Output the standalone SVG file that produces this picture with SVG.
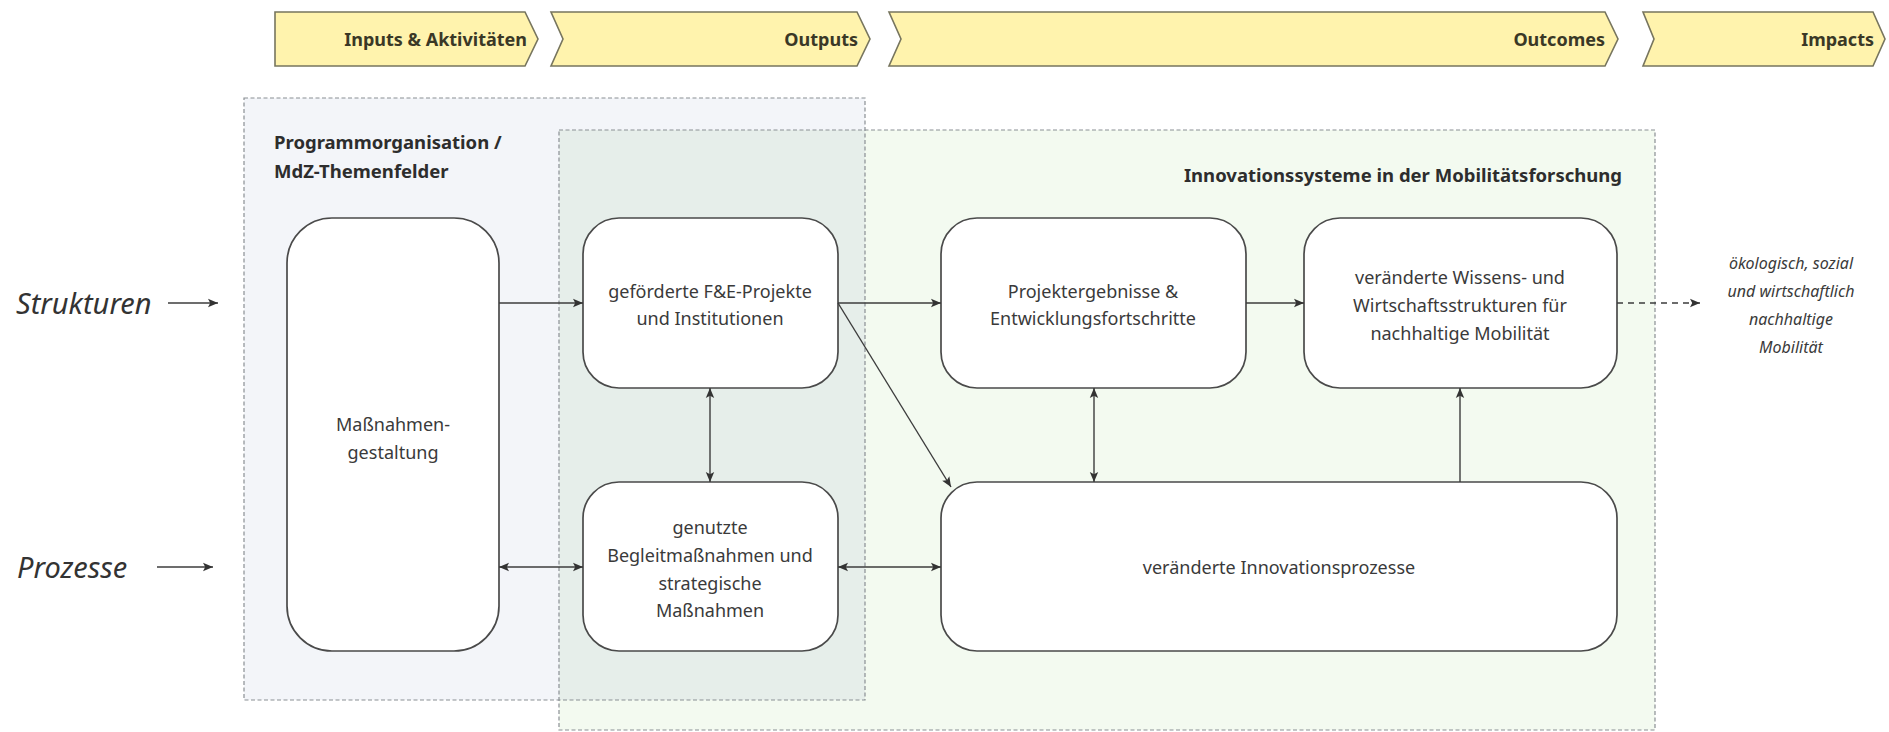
<svg xmlns="http://www.w3.org/2000/svg" width="1889" height="732" viewBox="0 0 1889 732">
  <defs>
    <marker id="arrow" viewBox="0 0 10 10" refX="10" refY="5" markerWidth="10" markerHeight="10" markerUnits="userSpaceOnUse" orient="auto-start-reverse">
      <path d="M0,0.8 L10,5 L0,9.2 L2.2,5 Z" fill="#333"/>
    </marker>
    <style>
      .phase { fill: #fff3ad; stroke: #77755e; stroke-width: 1.6; }
      .phase-label { font-family: "Noto Sans", "Open Sans", sans-serif; font-weight: bold; font-size: 18px; fill: #3a3826; text-anchor: end; dominant-baseline: central; }
      .group-title { font-family: "Noto Sans", "Open Sans", sans-serif; font-weight: bold; font-size: 18.5px; fill: #2d2d2d; }
      .frame { fill: none; stroke: #8a8f93; stroke-width: 1.2; stroke-dasharray: 4 2.5; }
      .node { fill: #ffffff; stroke: #4a4a4a; stroke-width: 1.7; }
      .label { font-family: "Noto Sans", "Open Sans", sans-serif; font-size: 18px; fill: #3a3a3a; text-anchor: middle; dominant-baseline: central; }
      .side { font-family: "Noto Sans", "Open Sans", sans-serif; font-style: italic; font-size: 29px; fill: #333; dominant-baseline: central; }
      .goal { font-family: "Noto Sans", "Open Sans", sans-serif; font-style: italic; font-size: 16px; fill: #3a3a3a; text-anchor: middle; dominant-baseline: central; }
      .edge { fill: none; stroke: #3c3c3c; stroke-width: 1.4; }
    </style>
  </defs>

  <rect width="1889" height="732" fill="#ffffff"/>

  <!-- phase banner -->
  <g id="phases">
    <g id="phase-inputs">
      <path class="phase" d="M275,12 H525 L538,39 L525,66 H275 Z"/>
      <text class="phase-label" x="527" y="39">Inputs &amp; Aktivitäten</text>
    </g>
    <g id="phase-outputs">
      <path class="phase" d="M551,12 H857 L870,39 L857,66 H551 L563,39 Z"/>
      <text class="phase-label" x="858" y="39">Outputs</text>
    </g>
    <g id="phase-outcomes">
      <path class="phase" d="M889,12 H1605 L1618,39 L1605,66 H889 L901,39 Z"/>
      <text class="phase-label" x="1605" y="39">Outcomes</text>
    </g>
    <g id="phase-impacts">
      <path class="phase" d="M1643,12 H1873 L1885,39 L1873,66 H1643 L1654,39 Z"/>
      <text class="phase-label" x="1874" y="39">Impacts</text>
    </g>
  </g>

  <!-- background areas -->
  <g id="areas">
    <rect x="244" y="98" width="621" height="602" fill="#f3f5f9"/>
    <rect x="559" y="130" width="1096" height="600" fill="#f3faf0"/>
    <rect x="559" y="130" width="306" height="570" fill="#e6eeea"/>
    <rect class="frame" x="244" y="98" width="621" height="602"/>
    <rect class="frame" x="559" y="130" width="1096" height="600"/>
    <text class="group-title" x="274" y="149">Programmorganisation /</text>
    <text class="group-title" x="274" y="178">MdZ-Themenfelder</text>
    <text class="group-title" x="1622" y="182" text-anchor="end">Innovationssysteme in der Mobilitätsforschung</text>
  </g>

  <!-- side inputs -->
  <g id="input-strukturen">
    <text class="side" x="16" y="302">Strukturen</text>
  </g>
  <g id="input-prozesse">
    <text class="side" x="17" y="566">Prozesse</text>
  </g>

  <!-- nodes -->
  <g id="node-massnahmen">
    <rect class="node" x="287" y="218" width="212" height="433" rx="45" ry="45"/>
    <text class="label" x="393" y="424">Maßnahmen-</text>
    <text class="label" x="393" y="452">gestaltung</text>
  </g>
  <g id="node-projekte">
    <rect class="node" x="583" y="218" width="255" height="170" rx="36" ry="36"/>
    <text class="label" x="710" y="291">geförderte F&amp;E-Projekte</text>
    <text class="label" x="710" y="318">und Institutionen</text>
  </g>
  <g id="node-begleit">
    <rect class="node" x="583" y="482" width="255" height="169" rx="36" ry="36"/>
    <text class="label" x="710" y="527">genutzte</text>
    <text class="label" x="710" y="555">Begleitmaßnahmen und</text>
    <text class="label" x="710" y="583">strategische</text>
    <text class="label" x="710" y="610">Maßnahmen</text>
  </g>
  <g id="node-ergebnisse">
    <rect class="node" x="941" y="218" width="305" height="170" rx="36" ry="36"/>
    <text class="label" x="1093" y="291">Projektergebnisse &amp;</text>
    <text class="label" x="1093" y="318">Entwicklungsfortschritte</text>
  </g>
  <g id="node-strukturen">
    <rect class="node" x="1304" y="218" width="313" height="170" rx="36" ry="36"/>
    <text class="label" x="1460" y="277">veränderte Wissens- und</text>
    <text class="label" x="1460" y="305">Wirtschaftsstrukturen für</text>
    <text class="label" x="1460" y="333">nachhaltige Mobilität</text>
  </g>
  <g id="node-prozesse">
    <rect class="node" x="941" y="482" width="676" height="169" rx="36" ry="36"/>
    <text class="label" x="1279" y="567">veränderte Innovationsprozesse</text>
  </g>
  <g id="node-impact">
    <text class="goal" x="1791" y="263">ökologisch, sozial</text>
    <text class="goal" x="1791" y="291">und wirtschaftlich</text>
    <text class="goal" x="1791" y="319">nachhaltige</text>
    <text class="goal" x="1791" y="347">Mobilität</text>
  </g>

  <!-- connectors -->
  <g id="connectors">
    <line class="edge" x1="168" y1="303" x2="218" y2="303" marker-end="url(#arrow)"/>
    <line class="edge" x1="157" y1="567" x2="213" y2="567" marker-end="url(#arrow)"/>
    <line class="edge" x1="499" y1="303" x2="583" y2="303" marker-end="url(#arrow)"/>
    <line class="edge" x1="838" y1="303" x2="941" y2="303" marker-end="url(#arrow)"/>
    <line class="edge" x1="1246" y1="303" x2="1304" y2="303" marker-end="url(#arrow)"/>
    <line class="edge" x1="1617" y1="303" x2="1700" y2="303" stroke-dasharray="6 5" marker-end="url(#arrow)"/>
    <line class="edge" x1="838" y1="303" x2="951" y2="487" marker-end="url(#arrow)"/>
    <line class="edge" x1="710" y1="388" x2="710" y2="482" marker-start="url(#arrow)" marker-end="url(#arrow)"/>
    <line class="edge" x1="1094" y1="388" x2="1094" y2="482" marker-start="url(#arrow)" marker-end="url(#arrow)"/>
    <line class="edge" x1="1460" y1="482" x2="1460" y2="388" marker-end="url(#arrow)"/>
    <line class="edge" x1="499" y1="567" x2="583" y2="567" marker-start="url(#arrow)" marker-end="url(#arrow)"/>
    <line class="edge" x1="838" y1="567" x2="941" y2="567" marker-start="url(#arrow)" marker-end="url(#arrow)"/>
  </g>
</svg>
